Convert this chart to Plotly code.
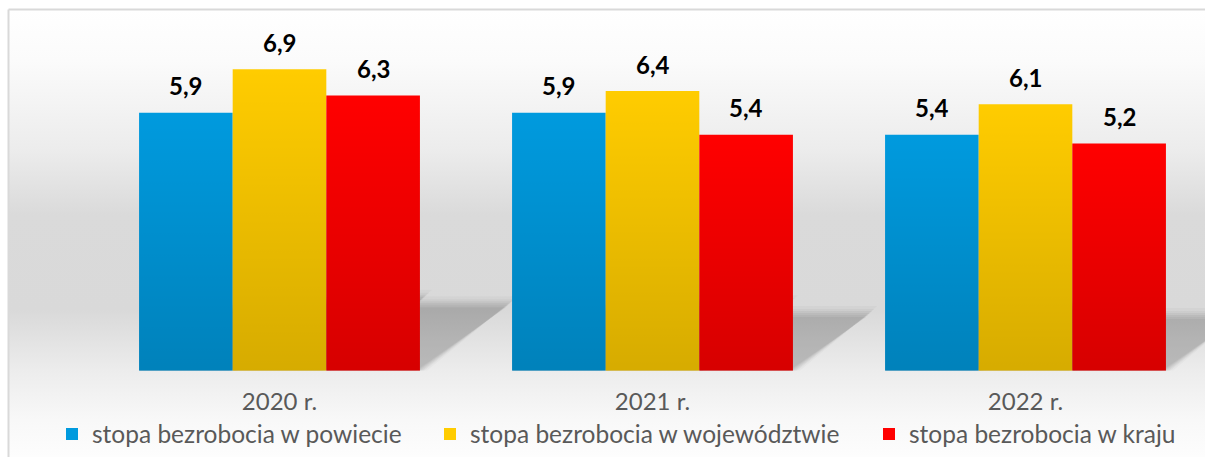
import plotly.graph_objects as go

# ---------------- data ----------------
categories = ["2020 r.", "2021 r.", "2022 r."]
series_names = [
    "stopa bezrobocia w powiecie",
    "stopa bezrobocia w województwie",
    "stopa bezrobocia w kraju",
]
powiat = [5.9, 5.9, 5.4]
wojewodztwo = [6.9, 6.4, 6.1]
kraj = [6.3, 5.4, 5.2]
y_max = 8

# ---------------- style ----------------
W, H = 1205, 457
colors = ["#009ADE", "#FFCC00", "#FF0000"]
FONT = "Lato"
TXT = "#595959"

series = [powiat, wojewodztwo, kraj]
n = len(series)
bargap = 0.247
bw = (1 - bargap) / n
pos = list(range(len(categories)))

x_dom = [93 / W, 1.0]
y_dom = [(H - 370.7) / H, (H - 21.1) / H]
x_range = [-0.5, -0.5 + (W - 93) / 373.0]
y_range = [0, y_max]

fig = go.Figure()

# ---- background gradient (pixel-space helper axes x/y) ----
bg_stops = [(9.5, "#ffffff"), (60, "#fbfbfb"), (150, "#ececec"), (215, "#dadada"),
            (310, "#d9d9d9"), (370, "#ececec"), (420, "#f8f8f8"), (457, "#fdfdfd")]
y0b, y1b = bg_stops[0][0], bg_stops[-1][0]
fig.add_trace(go.Scatter(
    x=[8.5, W + 20, W + 20, 8.5, 8.5], y=[9.5, 9.5, H + 20, H + 20, 9.5],
    mode="lines", line=dict(width=0), fill="toself",
    fillgradient=dict(type="vertical", start=y0b, stop=y1b,
                      colorscale=[[(yy - y0b) / (y1b - y0b), c] for yy, c in bg_stops]),
    hoverinfo="skip", showlegend=False, xaxis="x", yaxis="y"))

# ---- perspective shadows (x2/y2, beneath the bars) ----
k_sh = 0.245
px_per_unit_y = (370.7 - 21.1) / y_max
px_per_unit_x = 373.0
layers = [(-4, 0.04), (-2, 0.04), (0, 0.045), (2, 0.04), (4, 0.035), (7, 0.025)]
for j, vals in enumerate(series):
    for i, v in enumerate(vals):
        c = pos[i] + (j - (n - 1) / 2) * bw
        h_sh = k_sh * v
        dx = 1.34 * h_sh * px_per_unit_y / px_per_unit_x
        for e, a in layers:
            ey = e / px_per_unit_y
            ex = e / px_per_unit_x
            xs = [c - bw / 2, c + bw / 2 + ex, c + bw / 2 + dx + ex, c - bw / 2 + dx, c - bw / 2]
            ys = [0, 0, h_sh + ey, h_sh + ey, 0]
            fig.add_trace(go.Scatter(
                x=xs, y=ys, mode="lines", line=dict(width=0), fill="toself",
                fillcolor=f"rgba(0,0,0,{a})", hoverinfo="skip", showlegend=False,
                xaxis="x2", yaxis="y2"))

# ---- bars (x3/y3 overlaying x2/y2) ----
legend_ids = ["legend", "legend2", "legend3"]
for j, vals in enumerate(series):
    fig.add_trace(go.Bar(
        x=pos, y=vals, name=series_names[j], marker=dict(color=colors[j], line=dict(width=0)),
        legend=legend_ids[j], xaxis="x3", yaxis="y3", hoverinfo="skip"))

# vertical darkening gradient on each bar
for j, vals in enumerate(series):
    for i, v in enumerate(vals):
        c = pos[i] + (j - (n - 1) / 2) * bw
        fig.add_trace(go.Scatter(
            x=[c - bw / 2, c + bw / 2, c + bw / 2, c - bw / 2, c - bw / 2],
            y=[0, 0, v, v, 0], mode="lines", line=dict(width=0), fill="toself",
            fillgradient=dict(type="vertical", start=0, stop=v,
                              colorscale=[[0, "rgba(0,0,0,0.16)"], [1, "rgba(0,0,0,0)"]]),
            hoverinfo="skip", showlegend=False, xaxis="x3", yaxis="y3"))

# ---- data labels ----
annotations = []
for j, vals in enumerate(series):
    for i, v in enumerate(vals):
        c = pos[i] + (j - (n - 1) / 2) * bw
        annotations.append(dict(
            x=c, y=v, xref="x3", yref="y3", text=f"{v:.1f}".replace(".", ","),
            showarrow=False, yanchor="middle", yshift=27,
            font=dict(family=FONT, size=24, color="#000000", weight="bold")))

hidden = dict(visible=False, showgrid=False, zeroline=False, fixedrange=True)

legend_common = dict(orientation="h", yanchor="middle", y=(H - 434) / H, xanchor="left",
                     bgcolor="rgba(0,0,0,0)", borderwidth=0,
                     font=dict(family=FONT, size=24.5, color=TXT))
leg_text_x = [92, 470, 909]

border = dict(color="#d9d9d9", width=2)
fig.update_layout(
    width=W, height=H, autosize=False,
    margin=dict(l=0, r=0, t=0, b=0, pad=0, autoexpand=False),
    paper_bgcolor="#ffffff", plot_bgcolor="rgba(0,0,0,0)",
    barmode="group", bargap=bargap, bargroupgap=0,
    xaxis=dict(domain=[0, 1], range=[0, W], **hidden),
    yaxis=dict(domain=[0, 1], range=[H, 0], **hidden),
    xaxis2=dict(domain=x_dom, range=x_range, anchor="y2", showgrid=False, zeroline=False,
                showline=False, ticks="", tickmode="array", tickvals=pos, ticktext=categories,
                ticklabelstandoff=14, tickfont=dict(family=FONT, size=24, color=TXT),
                fixedrange=True),
    yaxis2=dict(domain=y_dom, range=y_range, anchor="x2", **hidden),
    xaxis3=dict(overlaying="x2", range=x_range, anchor="y3", **hidden),
    yaxis3=dict(overlaying="y2", range=y_range, anchor="x3", **hidden),
    legend=dict(x=(leg_text_x[0] - 40) / W, **legend_common),
    legend2=dict(x=(leg_text_x[1] - 40) / W, **legend_common),
    legend3=dict(x=(leg_text_x[2] - 40) / W, **legend_common),
    annotations=annotations,
    shapes=[
        dict(type="line", xref="x", yref="y", x0=8.5, y0=9.5, x1=W + 20, y1=9.5, line=border, layer="above"),
        dict(type="line", xref="x", yref="y", x0=8.5, y0=9.5, x1=8.5, y1=H + 20, line=border, layer="above"),
    ],
    showlegend=True,
)

fig.write_html(
    "out.html", config={"displayModeBar": False},
    post_script=("var d=document.documentElement;d.style.margin='0';d.style.padding='0';"
                 "d.style.overflow='hidden';document.body.style.margin='0';"
                 "document.body.style.padding='0';document.body.style.overflow='hidden';"))
